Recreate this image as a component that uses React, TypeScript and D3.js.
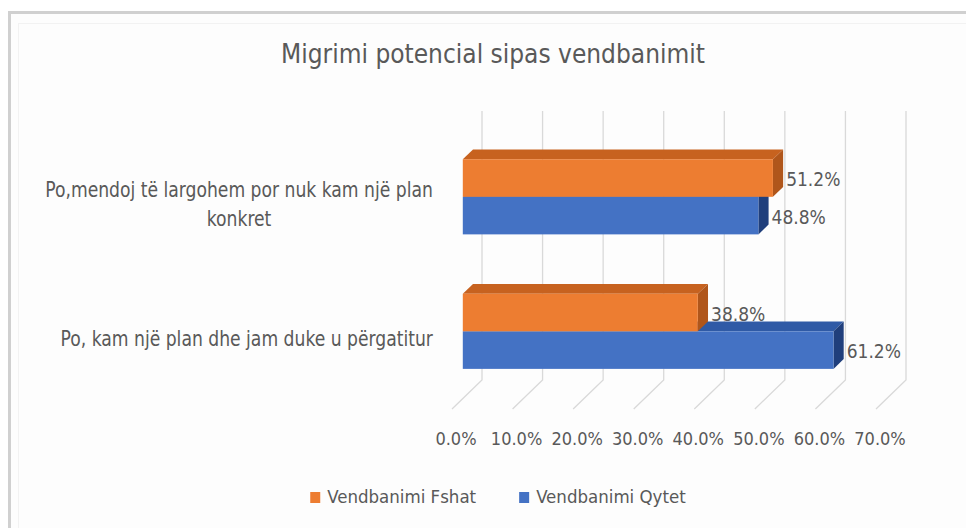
import React, { useEffect, useRef } from "react";
import * as d3 from "d3";

const title = "Migrimi potencial sipas vendbanimit";
const categories = [
  "Po,mendoj të largohem por nuk kam një plan konkret",
  "Po, kam një plan dhe jam duke u përgatitur",
];
const seriesNames = ["Vendbanimi Fshat", "Vendbanimi Qytet"];
const fshatValues = [51.2, 38.8];
const qytetValues = [48.8, 61.2];
const xTicks = [0, 10, 20, 30, 40, 50, 60, 70];

const FONT = "'Liberation Sans Narrow', 'DejaVu Sans Condensed', 'Open Sans', sans-serif";
const TEXT = "#595959";
const GRID = "#d9d9d9";

// front / top / side colours for each series
const faceColors = [
  { front: "#ed7d31", top: "#c7621f", side: "#b0561b" },
  { front: "#4472c4", top: "#2f5aa6", side: "#203f7c" },
];

const App = () => {
  const ref = useRef(null);

  useEffect(() => {
    const width = 966;
    const height = 528;
    // oblique depth vector (front -> back)
    const DX = 30;
    const DY = -29;
    const d1 = 0.36; // bar front
    const d2 = 0.7; // bar back

    const svg = d3.select(ref.current);
    svg.selectAll("*").remove();
    svg.attr("width", width).attr("height", height).attr("viewBox", [0, 0, width, height]);

    svg.append("rect").attr("width", width).attr("height", height).attr("fill", "#ffffff");
    svg
      .append("rect")
      .attr("x", 9.5)
      .attr("y", 12.5)
      .attr("width", width + 20)
      .attr("height", height + 20)
      .attr("fill", "#fdfdfd")
      .attr("stroke", "#d0d0d0")
      .attr("stroke-width", 3);
    svg
      .append("rect")
      .attr("x", 18.5)
      .attr("y", 23.5)
      .attr("width", width + 20)
      .attr("height", height + 20)
      .attr("fill", "none")
      .attr("stroke", "#f2f2f2")
      .attr("stroke-width", 1);

    const x = d3.scaleLinear().domain([0, 70]).range([452, 876]);
    const y0 = d3.scaleBand().domain(categories).range([140, 409]);
    const y1 = d3
      .scaleBand()
      .domain(seriesNames)
      .range([0, y0.bandwidth()])
      .paddingInner(0)
      .paddingOuter(0.79);

    const floorY = y0.range()[1];
    const wallTop = y0.range()[0] + DY;

    // back wall gridlines + floor diagonals
    const grid = svg.append("g").attr("stroke", GRID).attr("stroke-width", 1.3).attr("fill", "none");
    grid
      .selectAll("path")
      .data(xTicks)
      .join("path")
      .attr(
        "d",
        (t) =>
          `M${x(t) + DX},${wallTop}L${x(t) + DX},${floorY + DY}L${x(t)},${floorY}`
      );

    // x tick labels
    svg
      .append("g")
      .selectAll("text")
      .data(xTicks)
      .join("text")
      .attr("x", (t) => x(t) + 4)
      .attr("y", 445)
      .attr("text-anchor", "middle")
      .attr("font-family", FONT)
      .attr("font-size", 18)
      .attr("fill", TEXT)
      .text((t) => d3.format(".1f")(t) + "%");

    // bars
    const bars = [];
    categories.forEach((c, i) => {
      // draw Qytet first so Fshat (above) occludes it correctly
      [1, 0].forEach((s) => {
        const v = s === 0 ? fshatValues[i] : qytetValues[i];
        bars.push({ c, s, v });
      });
    });

    const sx1 = DX * d1,
      sy1 = DY * d1,
      sx2 = DX * d2,
      sy2 = DY * d2;
    const barG = svg.append("g");
    bars.forEach((b) => {
      const x0 = x(0);
      const e = x(b.v);
      const yt = y0(b.c) + y1(seriesNames[b.s]);
      const yb = yt + y1.bandwidth();
      const col = faceColors[b.s];
      const g = barG.append("g");
      g.append("path")
        .attr(
          "d",
          `M${x0 + sx1},${yt + sy1}L${e + sx1},${yt + sy1}L${e + sx2},${yt + sy2}L${x0 + sx2},${yt + sy2}Z`
        )
        .attr("fill", col.top);
      g.append("path")
        .attr(
          "d",
          `M${e + sx1},${yt + sy1}L${e + sx2},${yt + sy2}L${e + sx2},${yb + sy2}L${e + sx1},${yb + sy1}Z`
        )
        .attr("fill", col.side);
      g.append("rect")
        .attr("x", x0 + sx1)
        .attr("y", yt + sy1)
        .attr("width", e - x0)
        .attr("height", yb - yt)
        .attr("fill", col.front);
    });

    // data labels
    svg
      .append("g")
      .selectAll("text")
      .data(bars)
      .join("text")
      .attr("x", (b) => x(b.v) + sx2 + 3)
      .attr("y", (b) => y0(b.c) + y1(seriesNames[b.s]) + y1.bandwidth() / 2 + sy1 + 1)
      .attr("dominant-baseline", "central")
      .attr("font-family", FONT)
      .attr("font-size", 19)
      .attr("fill", TEXT)
      .text((b) => d3.format(".1f")(b.v) + "%");

    // category labels, wrapped and centred as a block right-aligned at the axis
    const labelRight = 433;
    const maxW = 400;
    const squeeze = 0.91; // the original font is narrower
    const catG = svg.append("g").attr("font-family", FONT).attr("font-size", 21).attr("fill", TEXT);
    categories.forEach((c) => {
      const probe = catG.append("text").attr("visibility", "hidden");
      const measure = (s) => {
        probe.text(s);
        return probe.node().getComputedTextLength() * squeeze;
      };
      const words = c.split(" ");
      const lines = [];
      let line = [];
      words.forEach((w) => {
        line.push(w);
        if (measure(line.join(" ")) > maxW && line.length > 1) {
          line.pop();
          lines.push(line.join(" "));
          line = [w];
        }
      });
      lines.push(line.join(" "));
      const blockW = d3.max(lines, measure);
      probe.remove();
      const cx = labelRight - blockW / 2;
      const lh = 29;
      const cy = y0(c) + y0.bandwidth() / 2 + sy1 + 7;
      const t = catG
        .append("text")
        .attr("text-anchor", "middle")
        .attr("transform", `translate(${cx},0) scale(${squeeze},1)`);
      lines.forEach((l, k) => {
        t.append("tspan")
          .attr("x", 0)
          .attr("y", cy + (k - (lines.length - 1) / 2) * lh)
          .attr("dominant-baseline", "central")
          .text(l);
      });
    });

    // title
    svg
      .append("text")
      .attr("x", 493)
      .attr("y", 63)
      .attr("text-anchor", "middle")
      .attr("font-family", FONT)
      .attr("font-size", 26)
      .attr("fill", TEXT)
      .text(title);

    // legend
    const legend = svg.append("g").attr("font-family", FONT).attr("font-size", 18.5).attr("fill", TEXT);
    const items = seriesNames.map((name, i) => {
      const g = legend.append("g");
      g.append("rect").attr("y", -11).attr("width", 10).attr("height", 11).attr("fill", faceColors[i].front);
      const t = g.append("text").attr("x", 17).attr("y", 0).text(name);
      return { g, w: 17 + t.node().getComputedTextLength() };
    });
    const gap = 43;
    const total = d3.sum(items, (d) => d.w) + gap * (items.length - 1);
    let lx = 498 - total / 2;
    items.forEach((it) => {
      it.g.attr("transform", `translate(${lx},503)`);
      lx += it.w + gap;
    });
  }, []);

  return (
    <svg ref={ref} style={{ position: "absolute", left: 0, top: 0, display: "block" }}></svg>
  );
};

export default App;
